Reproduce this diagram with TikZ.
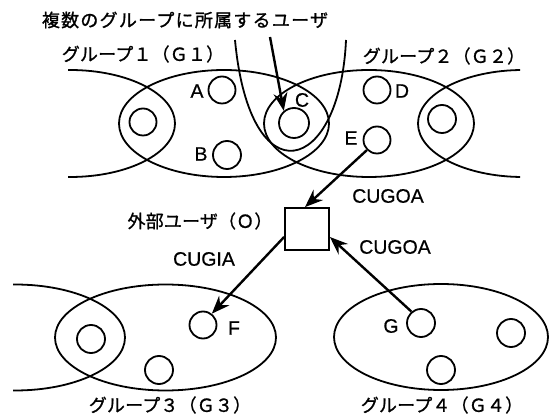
\documentclass[tikz,border=0pt]{standalone}
\usepackage{fontspec}
\setmainfont[RawFeature={embolden=0.6}]{Liberation Sans}
\newfontfamily\jp[LetterSpace=1,RawFeature={embolden=1}]{Noto Sans CJK JP}
\newfontfamily\jpt[LetterSpace=7,RawFeature={embolden=1.2}]{Noto Sans CJK JP}
\usetikzlibrary{arrows.meta,shapes.geometric}
\begin{document}
\begin{tikzpicture}[x=1pt,y=-1pt,
  grp/.style={draw,ellipse,line width=1.8pt,inner sep=0pt,minimum width=210pt,minimum height=107pt},
  usr/.style={draw,circle,line width=1.8pt,inner sep=0pt,minimum size=27pt},
  lbl/.style={font=\fontsize{19.5}{19.5}\selectfont,inner sep=0pt},
  jlbl/.style={font=\jp\fontsize{18}{18}\selectfont,inner sep=0pt},
  arr/.style={line width=2.4pt,-{Stealth[length=18pt,width=14pt,inset=6pt]}}
]
\useasboundingbox (0,0) rectangle (549,419);

% top row of groups
\begin{scope}
  \clip (68,0) rectangle (300,200);
  \node[grp] (G0) at (70,123.5) {};
\end{scope}
\begin{scope}
  \clip (300,0) rectangle (520,200);
  \node[grp] (G5) at (523,123.5) {};
\end{scope}
\node[grp] (G1) at (224,123.5) {};
\node[grp] (G2) at (369,123.5) {};

% bottom row of groups
\begin{scope}
  \clip (13,250) rectangle (200,419);
  \node[grp,minimum width=220pt,minimum height=106pt] (G6) at (15,337.5) {};
\end{scope}
\node[grp,minimum width=221pt,minimum height=106pt] (G3) at (165.5,337.5) {};
\node[grp,minimum width=214pt,minimum height=106pt] (G4) at (441,337) {};

% users
\node[usr] (u1) at (143,122) {};
\node[usr] (A) at (222,90) {};
\node[usr,minimum size=28pt] (B) at (227,155) {};
\node[usr,minimum size=30pt] (C) at (294,123) {};
\node[usr] (D) at (377,90) {};
\node[usr] (E) at (377,140) {};
\node[usr,minimum size=28pt] (u2) at (442,119) {};
\node[usr,minimum size=28pt] (u3) at (91,339) {};
\node[usr,minimum size=28pt] (u4) at (159,370) {};
\node[usr] (F) at (203,325) {};
\node[usr,minimum size=28pt] (G) at (421,323) {};
\node[usr,minimum size=28pt] (u5) at (511,333) {};
\node[usr,minimum size=28pt] (u6) at (441,370) {};

% letters
\node[lbl] (lA) at (197,91) {A};
\node[lbl] (lB) at (201,154) {B};
\node[lbl] (lC) at (302,100) {C};
\node[lbl] (lD) at (402,91) {D};
\node[lbl] (lE) at (351,138) {E};
\node[lbl] (lF) at (234,328) {F};
\node[lbl] (lG) at (391,326) {G};

% titles
\node[font=\jpt\fontsize{18}{18}\selectfont,inner sep=0pt] (title) at (185,20) {複数のグループに所属するユーザ};
\node[jlbl] (t1) at (143,54) {グループ１（Ｇ１）};
\node[jlbl] (t2) at (444,56) {グループ２（Ｇ２）};
\node[jlbl] (t3) at (170,405) {グループ３（Ｇ３）};
\node[jlbl] (t4) at (442,405) {グループ４（Ｇ４）};
\node[jlbl] (tO) at (200,221) {外部ユーザ（Ｏ）};

% external user
\node[draw,line width=1.8pt,minimum width=44pt,minimum height=42pt,inner sep=0pt] (O) at (307,229) {};

% U-shaped boundary
\draw[line width=1.8pt] (235,40) .. controls (250,200) and (340,175) .. (346,40);

% arrows
\coordinate (ts) at (270,37);
\draw[arr] (ts) -- (C.130);
\draw[arr] (E.225) -- ([xshift=-2pt]O.north);
\draw[arr] ([yshift=-8pt]O.west) -- (F.52);
\draw[arr] (G.130) -- ([yshift=-8pt]O.east);

\node[lbl] (cg1) at (388,196) {CUGOA};
\node[lbl] (cgi) at (204,259) {CUGIA};
\node[lbl] (cg2) at (395,247) {CUGOA};
\end{tikzpicture}
\end{document}
